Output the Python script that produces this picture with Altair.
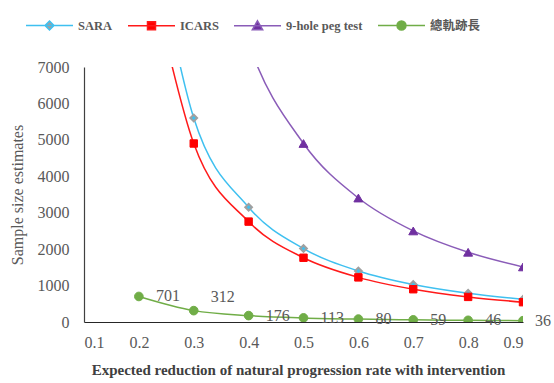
import altair as alt
import pandas as pd

x_vals = [0.2, 0.3, 0.4, 0.5, 0.6, 0.7, 0.8, 0.9]
sara = [12600, 5600, 3150, 2016, 1400, 1029, 788, 622]
icars = [11025, 4900, 2756, 1764, 1225, 900, 689, 544]
peg = [30625, 13611, 7656, 4900, 3403, 2500, 1914, 1512]
trail = [701, 312, 176, 113, 80, 59, 46, 36]

names = ["SARA", "ICARS", "9-hole peg test", "總軌跡長"]
series_vals = [sara, icars, peg, trail]
line_colors = ["#3FC0F0", "#FF1A1A", "#8A5CB8", "#70AD47"]
mark_fill = ["#3FC0F0", "#FF0000", "#7030A0", "#70AD47"]
mark_stroke = ["#A0A0A0", "#FF0000", "#7030A0", "#70AD47"]
mark_shape = ["diamond", "square", "triangle-up", "circle"]
mark_size = [45, 55, 80, 75]
legend_fill = ["#A0A0A0", "#FF0000", "#7030A0", "#70AD47"]

x_ticks = [0.1, 0.2, 0.3, 0.4, 0.5, 0.6, 0.7, 0.8, 0.9]
y_ticks = [0, 1000, 2000, 3000, 4000, 5000, 6000, 7000]

rows = []
for n, vals in zip(names, series_vals):
    for xv, yv in zip(x_vals, vals):
        rows.append({"series": n, "x": xv, "y": yv})
df = pd.DataFrame(rows)

SERIF = "Liberation Serif"
GRAY = "#595959"

xs = alt.Scale(domain=[0.1, 0.9], nice=False, zero=False)
ys = alt.Scale(domain=[0, 7000], nice=False)

x_enc = alt.X("x:Q", scale=xs, axis=alt.Axis(
    values=x_ticks, format=".1f", grid=False, ticks=False,
    domainColor="#262626", domainWidth=1.2,
    labelFont=SERIF, labelFontSize=16, labelColor=GRAY, labelPadding=12,
    title="Expected reduction of natural progression rate with intervention",
    titleFont=SERIF, titleFontSize=15, titleFontWeight="bold", titleColor="#404040",
    titlePadding=12, titleX=214))
y_enc = alt.Y("y:Q", scale=ys, axis=alt.Axis(
    values=y_ticks, format="d", grid=False, ticks=False,
    domainColor="#404040", domainWidth=1.2,
    labelFont=SERIF, labelFontSize=16, labelColor=GRAY, labelPadding=15,
    title="Sample size  estimates",
    titleFont=SERIF, titleFontSize=16, titleFontWeight="normal", titleColor=GRAY,
    titlePadding=12))

base = alt.Chart(df)
layers = []
for i, n in enumerate(names):
    line = base.transform_filter(alt.datum.series == n).mark_line(
        interpolate="cardinal", tension=0, clip=True, color=line_colors[i], strokeWidth=1.5
    ).encode(x=x_enc, y=y_enc)
    pts = base.transform_filter(alt.datum.series == n).mark_point(
        shape=mark_shape[i], filled=True, fill=mark_fill[i], stroke=mark_stroke[i],
        strokeWidth=2 if i == 0 else 1, size=mark_size[i], opacity=1, clip=True
    ).encode(x=x_enc, y=y_enc)
    layers += [line, pts]

lab = base.transform_filter(alt.datum.series == names[3])
labels = lab.transform_filter((alt.datum.x != 0.3) & (alt.datum.x != 0.9)).mark_text(
    align="left", baseline="middle", dx=17, font=SERIF, fontSize=16, color=GRAY
).encode(x=x_enc, y=y_enc, text="y:Q")
label312 = lab.transform_filter(alt.datum.x == 0.3).mark_text(
    align="left", baseline="middle", dx=17, dy=-14, font=SERIF, fontSize=16, color=GRAY
).encode(x=x_enc, y=y_enc, text="y:Q")
label36 = lab.transform_filter(alt.datum.x == 0.9).mark_text(
    align="left", baseline="middle", dx=12, font=SERIF, fontSize=16, color=GRAY
).encode(x=x_enc, y=y_enc, text="y:Q")
layers += [labels, label312, label36]

paths = [
    "M-1,0H1M0,-0.19L0.19,0L0,0.19L-0.19,0Z",
    "M-1,0H1M-0.17,-0.17H0.17V0.17H-0.17Z",
    "M-1,0H1M0,-0.21L0.22,0.17H-0.22Z",
    "M-1,0H1M-0.19,0A0.19,0.19 0 1,0 0.19,0A0.19,0.19 0 1,0 -0.19,0Z",
]


def leg():
    return alt.Legend(
        title=None, orient="none", legendX=-59, legendY=-66, direction="horizontal", columns=4,
        symbolSize=2209, symbolStrokeWidth=1.5, symbolOpacity=1,
        labelFont=SERIF + ", Noto Sans CJK TC",
        labelFontSize=12.5, labelFontWeight="bold", labelColor=GRAY, labelOffset=4,
        columnPadding=12)


leg_df = pd.DataFrame({"series": names})
legend_layer = alt.Chart(leg_df).transform_filter("datum.series == 'none'").mark_point(
    filled=True, strokeWidth=1.5
).encode(
    x=x_enc, y=y_enc,
    fill=alt.Fill("series:N", scale=alt.Scale(domain=names, range=legend_fill), legend=leg()),
    stroke=alt.Stroke("series:N", scale=alt.Scale(domain=names, range=line_colors), legend=leg()),
    shape=alt.Shape("series:N", scale=alt.Scale(domain=names, range=paths), legend=leg()),
)
layers.append(legend_layer)

chart = alt.layer(*layers).properties(
    width=439, height=255,
    autosize=alt.AutoSizeParams(type="none"),
    padding={"left": 84, "top": 67, "right": 31, "bottom": 61},
    background="white",
).configure_view(stroke=None)

chart.save("out.html", embed_options={"renderer": "svg", "actions": False})
